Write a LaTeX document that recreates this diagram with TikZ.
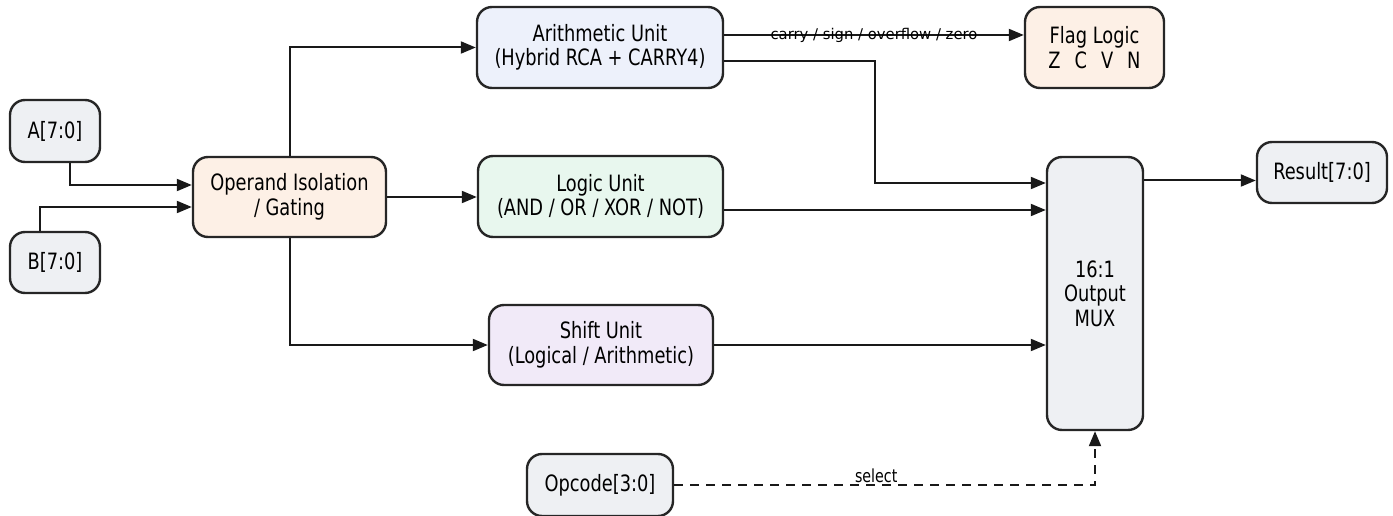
\documentclass[tikz,border=0pt]{standalone}
\usepackage{fontspec}
\setmainfont[FakeStretch=0.88]{DejaVu Sans Condensed}
\newfontfamily\lblfont{DejaVu Sans}
\usetikzlibrary{arrows.meta}

\definecolor{ioGray}{HTML}{EEF0F3}
\definecolor{opPeach}{HTML}{FDF0E6}
\definecolor{arBlue}{HTML}{EDF1FB}
\definecolor{lgGreen}{HTML}{E8F7EE}
\definecolor{shPurple}{HTML}{F1EAF8}

\begin{document}
\begin{tikzpicture}[x=1pt, y=-1pt, >={Triangle[length=15pt,width=12pt]},
  blk/.style={draw=black!85, line width=2.4pt, rounded corners=15pt, align=center,
    inner sep=0pt, font=\fontsize{22.5}{24.5}\selectfont},
  wire/.style={->, line width=2pt, black!90},
  tag/.style={inner sep=1pt, text=black}]

  % Canvas (pixel grid of the reference)
  \useasboundingbox (0,0) rectangle (1393,516);

  % Inputs
  \node[blk, fill=ioGray, minimum width=90pt, minimum height=62pt] (A) at (55,131) {A[7:0]};
  \node[blk, fill=ioGray, minimum width=90pt, minimum height=61pt] (B) at (55,262.5) {B[7:0]};

  % Operand isolation
  \node[blk, fill=opPeach, minimum width=193pt, minimum height=80pt] (iso) at (289.5,197)
    {Operand Isolation\\/ Gating};

  % Functional units
  \node[blk, fill=arBlue, minimum width=246pt, minimum height=81pt] (arith) at (600,47.5)
    {Arithmetic Unit\\(Hybrid RCA + CARRY4)};
  \node[blk, fill=lgGreen, minimum width=245pt, minimum height=81pt] (logic) at (600.5,196.5)
    {Logic Unit\\(AND / OR / XOR / NOT)};
  \node[blk, fill=shPurple, minimum width=224pt, minimum height=80pt] (shift) at (601,345)
    {Shift Unit\\(Logical / Arithmetic)};

  % Flags, mux, outputs
  \node[blk, fill=opPeach, minimum width=139pt, minimum height=81pt] (flag) at (1094.5,47.5)
    {Flag Logic\\Z\hspace{14pt}C\hspace{14pt}V\hspace{14pt}N};
  \node[blk, fill=ioGray, minimum width=96pt, minimum height=273pt] (mux) at (1095,293.5)
    {16:1\\Output\\MUX};
  \node[blk, fill=ioGray, minimum width=130pt, minimum height=61pt] (res) at (1322,172.5) {Result[7:0]};
  \node[blk, fill=ioGray, minimum width=146pt, minimum height=62pt] (opc) at (600,485) {Opcode[3:0]};

  % Operands into isolation
  \draw[wire] ([xshift=15pt]A.south) |- ([yshift=12pt]iso.west);
  \draw[wire] ([xshift=-15pt]B.north) |- ([yshift=-10pt]iso.west);

  % Fan-out to the units
  \draw[wire] (iso.north) |- (arith.west);
  \draw[wire] (iso.east) -- (iso.east -| logic.west);
  \draw[wire] (iso.south) |- (shift.west);

  % Arithmetic outputs
  \draw[wire] ([yshift=12.5pt]arith.east) -- ([yshift=12.5pt]arith.east -| flag.west)
    node[midway, tag, font=\lblfont\fontsize{14.8}{16}\selectfont] {carry / sign / overflow / zero};
  \draw[wire] ([yshift=-14pt]arith.east) -- ++(151,0) coordinate (turn) |- ([yshift=110.5pt]mux.west);

  % Logic and shift into the mux
  \draw[wire] ([yshift=-13.5pt]logic.east) -- ([yshift=-13.5pt]logic.east -| mux.west);
  \draw[wire] (shift.east) -- (shift.east -| mux.west);

  % Result
  \draw[wire] ([yshift=113pt]mux.east) -- ([yshift=113pt]mux.east -| res.west);

  % Select (dashed)
  \draw[wire, dash pattern=on 9pt off 7pt] (opc.east) -| (mux.south)
    node[pos=0.24, above, tag, font=\fontsize{18}{20}\selectfont] {select};

\end{tikzpicture}
\end{document}
